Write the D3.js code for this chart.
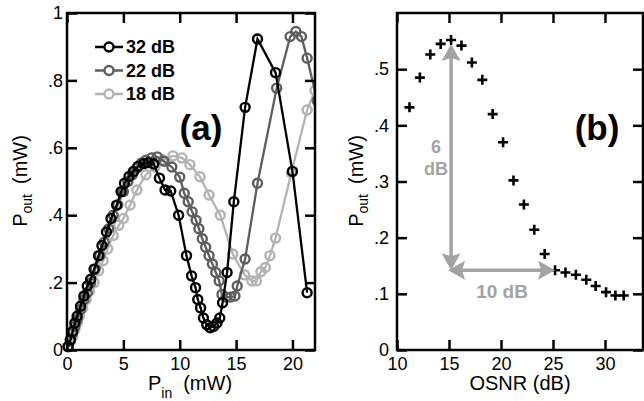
<!DOCTYPE html>
<html>
<head>
<meta charset="utf-8">
<script src="https://cdn.jsdelivr.net/npm/d3@7"></script>
<style>
  body { margin: 0; background: #fff; }
  svg { display: block; font-family: "Liberation Sans", Arial, sans-serif; }
  .tick line { stroke: #000; stroke-width: 2.5; }
  .tick text { font-size: 18px; fill: #000; }
</style>
</head>
<body>
<div id="chart"></div>
<script>
// panel (a): Pout vs Pin for three OSNR values
var black32 = [[0.1,0.01],[0.3,0.03],[0.5,0.055],[0.7,0.08],[0.9,0.10],[1.2,0.13],[1.5,0.16],[1.8,0.19],[2.1,0.21],[2.4,0.24],[2.8,0.28],[3.1,0.31],[3.5,0.35],[3.9,0.39],[4.4,0.43],[4.8,0.47],[5.1,0.495],[5.5,0.515],[5.9,0.53],[6.3,0.545],[6.8,0.553],[7.2,0.556],[7.7,0.552],[8.2,0.51],[8.7,0.475],[9.2,0.472],[9.9,0.40],[10.6,0.28],[11.05,0.22],[11.4,0.185],[11.6,0.15],[11.85,0.125],[12.1,0.095],[12.4,0.075],[12.7,0.066],[13.0,0.07],[13.3,0.08],[13.55,0.095],[13.8,0.14],[14.2,0.23],[14.8,0.44],[15.8,0.72],[16.9,0.923],[18.5,0.823],[20.0,0.53],[21.3,0.17]]
var gray22 = [[0.1,0.01],[0.3,0.03],[0.5,0.05],[0.7,0.07],[0.9,0.09],[1.2,0.12],[1.5,0.15],[1.8,0.17],[2.1,0.20],[2.5,0.24],[2.9,0.28],[3.3,0.32],[3.7,0.36],[4.1,0.40],[4.5,0.43],[5.0,0.47],[5.4,0.50],[5.8,0.52],[6.2,0.54],[6.6,0.555],[7.0,0.563],[7.5,0.57],[8.0,0.573],[8.6,0.56],[9.3,0.543],[10.0,0.513],[10.4,0.465],[10.75,0.44],[11.1,0.41],[11.45,0.385],[11.7,0.36],[12.0,0.33],[12.3,0.305],[12.6,0.28],[12.9,0.255],[13.2,0.23],[13.5,0.205],[13.75,0.165],[14.1,0.157],[14.5,0.157],[14.9,0.16],[15.1,0.19],[15.8,0.27],[16.9,0.495],[18.6,0.777],[19.8,0.93],[20.3,0.945],[20.8,0.93],[21.3,0.866],[22.2,0.74]]
var light18 = [[0.1,0.01],[0.3,0.025],[0.5,0.04],[0.7,0.06],[0.9,0.08],[1.1,0.10],[1.4,0.125],[1.7,0.15],[2.0,0.175],[2.4,0.20],[2.8,0.235],[3.2,0.265],[3.6,0.30],[4.1,0.34],[4.6,0.37],[5.0,0.39],[5.6,0.43],[6.2,0.475],[7.0,0.52],[7.8,0.543],[8.5,0.564],[9.4,0.576],[10.2,0.57],[10.9,0.55],[11.8,0.514],[12.6,0.46],[13.6,0.40],[14.7,0.285],[15.75,0.223],[16.4,0.205],[16.8,0.205],[17.2,0.232],[17.6,0.245],[18.0,0.28],[18.5,0.332],[19.9,0.525],[21.3,0.712],[22.0,0.77]]
var seriesNames = ["32 dB", "22 dB", "18 dB"]
var seriesColors = ["#000000", "#5e5e5e", "#b3b3b3"]
var xTicksA = [0, 5, 10, 15, 20]
var yTicksA = [0, 0.2, 0.4, 0.6, 0.8, 1]

// panel (b): Pout vs OSNR
var osnr = [11.2,12.2,13.2,14.2,15.2,16.2,17.2,18.2,19.2,20.2,21.2,22.2,23.2,24.2,25.2,26.2,27.2,28.2,29.1,30.1,31.0,31.8]
var pout = [0.432,0.485,0.526,0.545,0.552,0.542,0.512,0.481,0.420,0.370,0.302,0.259,0.214,0.171,0.142,0.138,0.134,0.125,0.114,0.103,0.097,0.097]
var xTicksB = [10, 15, 20, 25, 30]
var yTicksB = [0, 0.1, 0.2, 0.3, 0.4, 0.5]

var W = 644, H = 401
var svg = d3.select("#chart").append("svg").attr("width", W).attr("height", H)

function yFmt(d) {
    if (d === 0) return "0"
    if (d === 1) return "1"
    return d3.format(".1f")(d).replace(/^0/, "")
}

function frame(x, y, xt, yt, ypad) {
    var x0 = x.range()[0], x1 = x.range()[1], y0 = y.range()[0], y1 = y.range()[1]
    svg.append("g").attr("transform", "translate(0," + y0 + ")")
        .call(d3.axisBottom(x).tickValues(xt).tickSize(-10).tickPadding(7))
    svg.append("g").attr("transform", "translate(0," + y1 + ")")
        .call(d3.axisTop(x).tickValues(xt).tickSize(-10).tickFormat(""))
    svg.append("g").attr("transform", "translate(" + x0 + ",0)")
        .call(d3.axisLeft(y).tickValues(yt).tickSize(-10).tickPadding(ypad).tickFormat(yFmt))
    svg.append("g").attr("transform", "translate(" + x1 + ",0)")
        .call(d3.axisRight(y).tickValues(yt).tickSize(-10).tickFormat(""))
    svg.selectAll(".domain").remove()
    svg.append("rect").attr("x", x0).attr("y", y1).attr("width", x1 - x0).attr("height", y0 - y1)
        .attr("fill", "none").attr("stroke", "#000").attr("stroke-width", 2.5)
}

function yLabel(cx, cy) {
    var t = svg.append("text").attr("transform", "translate(" + cx + "," + cy + ") rotate(-90)")
        .attr("text-anchor", "middle").attr("font-size", 20)
    t.append("tspan").text("P")
    t.append("tspan").attr("font-size", 14).attr("dy", 5).text("out")
    t.append("tspan").attr("dy", -5).attr("dx", 10).text("(mW)")
}

/* ---- panel (a) ---- */
var xA = d3.scaleLinear().domain([0, 22]).range([67, 315])
var yA = d3.scaleLinear().domain([0, 1]).range([350, 13])

svg.append("clipPath").attr("id", "clipA").append("rect")
    .attr("x", 40).attr("y", 0).attr("width", 315 - 40).attr("height", 380)

var line = d3.line().x(function(d){ return xA(d[0]) }).y(function(d){ return yA(d[1]) })
var gA = svg.append("g").attr("clip-path", "url(#clipA)")
var allSeries = [light18, gray22, black32]
var allColors = [seriesColors[2], seriesColors[1], seriesColors[0]]
allSeries.forEach(function(s, i){
    var g = gA.append("g")
    g.append("path").attr("d", line(s)).attr("fill", "none")
        .attr("stroke", allColors[i]).attr("stroke-width", 2.3)
    g.selectAll("circle").data(s).enter().append("circle")
        .attr("cx", function(d){ return xA(d[0]) })
        .attr("cy", function(d){ return yA(d[1]) })
        .attr("r", 4.5).attr("fill", "none")
        .attr("stroke", allColors[i]).attr("stroke-width", 2.4)
})

frame(xA, yA, xTicksA, yTicksA, 4)

// legend
seriesNames.forEach(function(name, i){
    var ly = 47 + i * 23.5
    svg.append("line").attr("x1", 95).attr("x2", 123).attr("y1", ly).attr("y2", ly)
        .attr("stroke", seriesColors[i]).attr("stroke-width", 2.5)
    svg.append("circle").attr("cx", 109).attr("cy", ly).attr("r", 4.5)
        .attr("fill", "#fff").attr("stroke", seriesColors[i]).attr("stroke-width", 2.4)
    svg.append("text").attr("x", 126).attr("y", ly).attr("dy", "0.36em")
        .attr("font-size", 18).attr("font-weight", "bold").text(name)
})

svg.append("text").attr("x", 201).attr("y", 140).attr("text-anchor", "middle")
    .attr("font-size", 35).attr("font-weight", "bold").text("(a)")

yLabel(27, 181)
var xlA = svg.append("text").attr("x", 190).attr("y", 390).attr("text-anchor", "middle").attr("font-size", 20)
xlA.append("tspan").text("P")
xlA.append("tspan").attr("font-size", 14).attr("dy", 8).text("in")
xlA.append("tspan").attr("dy", -8).attr("dx", 11).text("(mW)")

/* ---- panel (b) ---- */
var xB = d3.scaleLinear().domain([10, 10 + 246 / 10.4]).range([397, 643])
var yB = d3.scaleLinear().domain([0, 0.6]).range([350, 13])

frame(xB, yB, xTicksB, yTicksB, 8)

var ptsB = osnr.map(function(v, i){ return [v, pout[i]] })
svg.append("g").selectAll("path.plus").data(ptsB).enter().append("path")
    .attr("class", "plus")
    .attr("d", function(d){
        var px = xB(d[0]), py = yB(d[1])
        return "M" + (px - 5) + "," + py + "H" + (px + 5) + "M" + px + "," + (py - 5) + "V" + (py + 5)
    })
    .attr("stroke", "#000").attr("stroke-width", 2.6).attr("fill", "none")

// arrows: peak down to floor level, then across to where the floor begins
var arrowColor = "#a3a3a3"
var peak = ptsB[d3.maxIndex(pout)]
var knee = ptsB[14]
var ax = xB(peak[0]), aTop = yB(peak[1]) + 4, aBot = yB(knee[1]), aRight = xB(knee[0])

function head(tx, ty, dx, dy) {
    var L = 17, Wd = 9.5
    var bx = tx - dx * L, by = ty - dy * L
    var nx = -dy, ny = dx
    svg.append("path").attr("d", "M" + tx + "," + ty + "L" + (bx + nx * Wd) + "," + (by + ny * Wd) +
        "L" + (bx + dx * 3) + "," + (by + dy * 3) + "L" + (bx - nx * Wd) + "," + (by - ny * Wd) + "Z")
        .attr("fill", arrowColor)
}
svg.append("line").attr("x1", ax).attr("x2", ax).attr("y1", aTop + 12).attr("y2", aBot - 12)
    .attr("stroke", arrowColor).attr("stroke-width", 3.5)
svg.append("line").attr("x1", ax + 8).attr("x2", aRight - 12).attr("y1", aBot).attr("y2", aBot)
    .attr("stroke", arrowColor).attr("stroke-width", 3.5)
head(ax, aTop, 0, -1)
head(ax, aBot, 0, 1)
head(ax - 3, aBot, -1, 0)
head(aRight, aBot, 1, 0)

svg.append("text").attr("x", 436).attr("y", 153).attr("text-anchor", "middle")
    .attr("font-size", 18).attr("font-weight", "bold").attr("fill", arrowColor).text("6")
svg.append("text").attr("x", 436).attr("y", 175).attr("text-anchor", "middle")
    .attr("font-size", 18).attr("font-weight", "bold").attr("fill", arrowColor).text("dB")
svg.append("text").attr("x", 502).attr("y", 298).attr("text-anchor", "middle")
    .attr("font-size", 19).attr("font-weight", "bold").attr("fill", arrowColor).text("10 dB")

svg.append("text").attr("x", 597).attr("y", 140).attr("text-anchor", "middle")
    .attr("font-size", 35).attr("font-weight", "bold").text("(b)")

yLabel(363, 181)
svg.append("text").attr("x", 520).attr("y", 390).attr("text-anchor", "middle")
    .attr("font-size", 20).text("OSNR (dB)")
</script>
</body>
</html>
